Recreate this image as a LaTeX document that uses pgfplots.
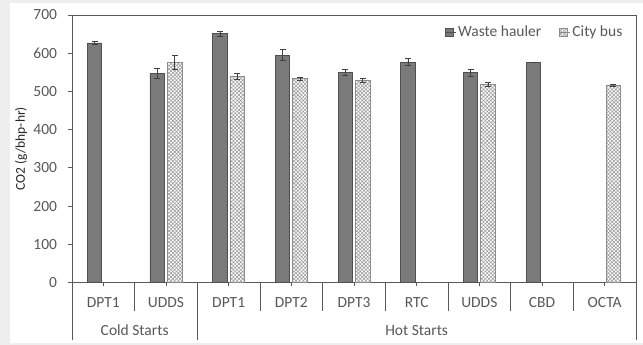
\documentclass[border=0pt]{standalone}
\usepackage{fontspec}
\setmainfont{Carlito}
\usepackage{pgfplots}
\pgfplotsset{compat=1.18}
\usetikzlibrary{patterns,patterns.meta}
\definecolor{txt}{HTML}{595959}
\definecolor{wfill}{HTML}{7A7A7A}
\definecolor{wdraw}{HTML}{505050}
\definecolor{cdraw}{HTML}{8C8C8C}
\definecolor{bg}{HTML}{EEEEEE}
\begin{document}
\begin{tikzpicture}[x=1pt,y=1pt]
\path[use as bounding box] (0,0) rectangle (643,345);
\fill[bg] (0,0) rectangle (643,345);
\fill[white] (10,2) rectangle (643,342);
\begin{axis}[
  at={(72pt,62.5pt)}, anchor=south west,
  scale only axis, width=564pt, height=267.5pt,
  xmin=-0.5, xmax=8.5, ymin=0, ymax=700,
  ytick={0,100,...,700},
  xtick={0,...,8},
  xticklabels={DPT1,UDDS,DPT1,DPT2,DPT3,RTC,UDDS,CBD,OCTA},
  xtick pos=bottom, ytick pos=left,
  tick align=outside, major tick length=3.5pt,
  tick style={txt, line width=0.8pt},
  axis line style={txt, line width=0.9pt},
  /pgf/number format/assume math mode=true,
  ticklabel style={font=\fontsize{15.5}{17}\selectfont, text=txt},
  yticklabel style={xshift=-8pt},
  xticklabel style={anchor=base, yshift=-22pt},
  ylabel={CO2 (g/bhp-hr)},
  ylabel style={at={(axis description cs:-0.0904,0.5)}, anchor=center, font=\fontsize{13.5}{15}\selectfont, text=black!85},
  ybar=3pt, bar width=14.5pt,
  clip=false,
  legend style={at={(rel axis cs:0.985,0.975)}, anchor=north east, draw=none, fill=none,
    font=\fontsize{15.5}{17}\selectfont, text=txt, legend columns=2,
    /tikz/every even column/.append style={column sep=16pt}},
  legend image code/.code={\draw[#1] (0pt,-4pt) rectangle (8pt,4pt); \path (0pt,0pt) -- (10.5pt,0pt);},
  error bars/y dir=both, error bars/y explicit,
  error bars/error bar style={black!75, line width=0.7pt},
  error bars/error mark options={rotate=90, mark size=3pt, black!75, line width=0.7pt},
]
\addplot[draw=wdraw, fill=wfill, line width=0.7pt] coordinates {
  (0,627) +- (0,3)
  (1,547) +- (0,13)
  (2,651) +- (0,6)
  (3,595) +- (0,14)
  (4,549) +- (0,8)
  (5,577) +- (0,9)
  (6,549) +- (0,9)
  (7,575) +- (0,0)
};
\addlegendentry{Waste hauler}
\addplot[fill=white, draw=cdraw, line width=0.7pt, postaction={pattern={Hatch[angle=45,distance=2.6pt,line width=0.55pt]}, pattern color=black!40}] coordinates {
  (1,576) +- (0,18)
  (2,540) +- (0,8)
  (3,533) +- (0,3)
  (4,530) +- (0,5)
  (6,518) +- (0,5)
  (8,516) +- (0,3)
};
\addlegendentry{City bus}
% category separators
\pgfplotsinvokeforeach{0.5,2.5,3.5,4.5,5.5,6.5,7.5}{
  \draw[txt, line width=0.9pt] (axis cs:#1,0) -- ++(0pt,-28.5pt);
}
\pgfplotsinvokeforeach{-0.5,1.5,8.5}{
  \draw[txt, line width=0.9pt] (axis cs:#1,0) -- ++(0pt,-57.5pt);
}
\node[anchor=base, font=\fontsize{15.5}{17}\selectfont, text=txt] at ([yshift=-53.5pt]axis cs:0.5,0) {Cold Starts};
\node[anchor=base, font=\fontsize{15.5}{17}\selectfont, text=txt] at ([yshift=-53.5pt]axis cs:5,0) {Hot Starts};
\end{axis}
\end{tikzpicture}
\end{document}
